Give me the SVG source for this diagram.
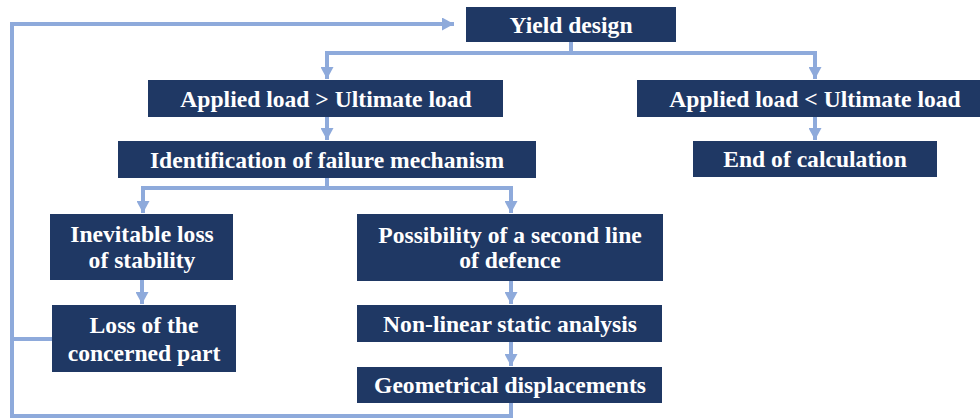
<svg xmlns="http://www.w3.org/2000/svg" width="980" height="419" viewBox="0 0 980 419">
<style>
.box{fill:#1f3864;}
.t{font-family:'Liberation Serif','DejaVu Serif',serif;font-weight:700;font-size:23.6px;fill:#ffffff;text-anchor:middle;}
.c{fill:none;stroke:#8eaadb;stroke-width:4;}
</style>
<defs>
<marker id="ah" markerUnits="userSpaceOnUse" markerWidth="13" markerHeight="13" refX="12" refY="6.5" orient="auto">
<path d="M0,0 L12,6.5 L0,13 Z" fill="#8eaadb"/>
</marker>
</defs>
<rect width="980" height="419" fill="#ffffff"/>
<g id="connectors">
<path class="c" d="M511,403 V416 H12 V24 H454" marker-end="url(#ah)"/>
<path class="c" d="M52,339 H12"/>
<path class="c" d="M571,42 V53"/>
<path class="c" d="M325,53 H817"/>
<path class="c" d="M327,53 V79" marker-end="url(#ah)"/>
<path class="c" d="M815,53 V79" marker-end="url(#ah)"/>
<path class="c" d="M327,117 V140" marker-end="url(#ah)"/>
<path class="c" d="M815,117 V140" marker-end="url(#ah)"/>
<path class="c" d="M327,178 V188"/>
<path class="c" d="M141,188 H513"/>
<path class="c" d="M143,188 V213" marker-end="url(#ah)"/>
<path class="c" d="M511,188 V213" marker-end="url(#ah)"/>
<path class="c" d="M142,280 V304" marker-end="url(#ah)"/>
<path class="c" d="M511,281 V304" marker-end="url(#ah)"/>
<path class="c" d="M511,342 V366" marker-end="url(#ah)"/>
</g>
<g id="yield">
<rect class="box" x="466" y="7" width="210" height="35"/>
<text class="t" x="571" y="33">Yield design</text>
</g>
<g id="greater">
<rect class="box" x="148" y="80" width="355" height="37"/>
<text class="t" x="326" y="107">Applied load &gt; Ultimate load</text>
</g>
<g id="less">
<rect class="box" x="637" y="80" width="343" height="37"/>
<text class="t" x="815" y="107">Applied load &lt; Ultimate load</text>
</g>
<g id="end">
<rect class="box" x="693" y="141" width="244" height="36"/>
<text class="t" x="815" y="167">End of calculation</text>
</g>
<g id="ident">
<rect class="box" x="118" y="141" width="418" height="37"/>
<text class="t" x="327" y="168">Identification of failure mechanism</text>
</g>
<g id="inevitable">
<rect class="box" x="50" y="214" width="183" height="66"/>
<text class="t" x="142" y="242">Inevitable loss</text>
<text class="t" x="142" y="268">of stability</text>
</g>
<g id="possibility">
<rect class="box" x="357" y="214" width="306" height="67"/>
<text class="t" x="510" y="243">Possibility of a second line</text>
<text class="t" x="510" y="268">of defence</text>
</g>
<g id="loss">
<rect class="box" x="52" y="305" width="184" height="67"/>
<text class="t" x="144" y="333">Loss of the</text>
<text class="t" x="144" y="361">concerned part</text>
</g>
<g id="nonlinear">
<rect class="box" x="357" y="305" width="305" height="37"/>
<text class="t" x="510" y="332">Non-linear static analysis</text>
</g>
<g id="geom">
<rect class="box" x="357" y="367" width="305" height="36"/>
<text class="t" x="510" y="393">Geometrical displacements</text>
</g>
</svg>
